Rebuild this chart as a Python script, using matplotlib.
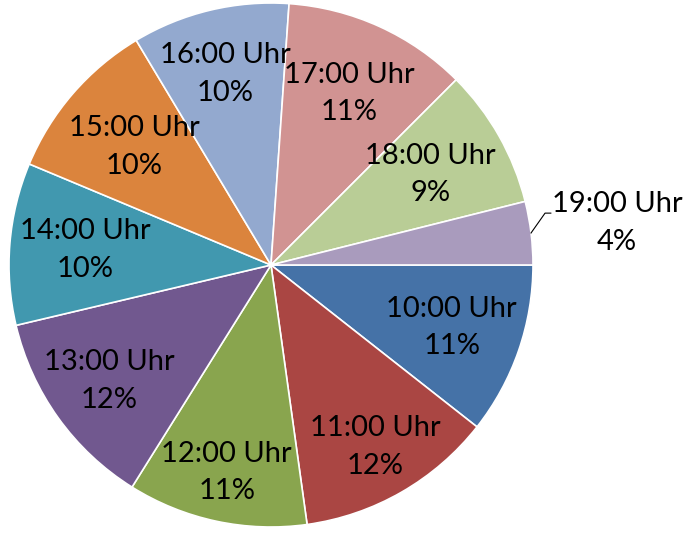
import numpy as np
import matplotlib.pyplot as plt

hours = ["10:00 Uhr", "11:00 Uhr", "12:00 Uhr", "13:00 Uhr", "14:00 Uhr",
         "15:00 Uhr", "16:00 Uhr", "17:00 Uhr", "18:00 Uhr", "19:00 Uhr"]
shares = [10.6, 12.2, 11.1, 12.4, 10.0, 10.1, 9.7, 11.4, 8.6, 3.9]
colors = ["#4572A7", "#AA4643", "#89A54E", "#71588F", "#4198AF",
          "#DB843D", "#93A9CF", "#D19392", "#B9CD96", "#A99BBD"]

# radial distance of each inside label (fraction of radius)
label_dist = [0.73, 0.80, 0.81, 0.76, 0.71, 0.69, 0.75, 0.72, 0.70]

W, H = 689, 534
fig = plt.figure(figsize=(W / 100, H / 100), dpi=100)
cx, cy, R = 271, 265, 262
ax = fig.add_axes([(cx - R) / W, (H - cy - R) / H, 2 * R / W, 2 * R / H])

wedges, _ = ax.pie(shares, colors=colors, startangle=0, counterclock=False,
                   radius=1, wedgeprops=dict(edgecolor="white", linewidth=1.2))
ax.set_xlim(-1, 1)
ax.set_ylim(-1, 1)
ax.set_aspect("equal")
ax.axis("off")

total = sum(shares)
font = dict(family=["Lato", "DejaVu Sans"], fontsize=21, color="black")
for i, (w, name, v) in enumerate(zip(wedges, hours, shares)):
    mid = np.deg2rad((w.theta1 + w.theta2) / 2)
    pct = "%d%%" % round(v / total * 100)
    if v < 5:
        # small slice: label outside with leader line
        x0, y0 = np.cos(mid), np.sin(mid)
        ax.plot([x0, 1.046, 1.068], [y0, 0.198, 0.198], color="black",
                lw=0.8, clip_on=False)
        ax.text(1.32, 0.16, name + "\n" + pct, ha="center", va="center",
                linespacing=1.55, **font)
    else:
        r = label_dist[i]
        ax.text(r * np.cos(mid), r * np.sin(mid), name + "\n" + pct,
                ha="center", va="center", linespacing=1.55, **font)

fig.savefig("out.png", dpi=100)
